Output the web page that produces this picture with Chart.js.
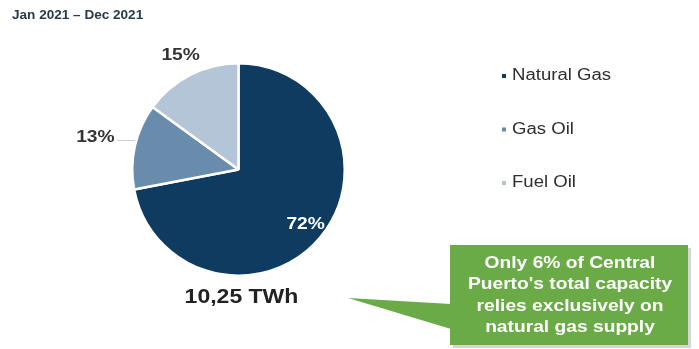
<!DOCTYPE html>
<html>
<head>
<meta charset="utf-8">
<script src="https://cdn.jsdelivr.net/npm/chart.js@4/dist/chart.umd.min.js"></script>
<style>
  html, body { margin: 0; padding: 0; background: #fff; }
  #wrap { position: relative; width: 699px; height: 349px; }
</style>
</head>
<body>
<div id="wrap"><canvas id="chart-fuel" width="699" height="349"></canvas></div>
<script>
const period = 'Jan 2021 – Dec 2021';
const fuels = ['Natural Gas', 'Gas Oil', 'Fuel Oil'];
const shares = [72, 13, 15];
const fuelColors = ['#0f3b60', '#6a8cac', '#b3c5d6'];
const totalLabel = '10,25 TWh';
const calloutLines = ['Only 6% of Central', 'Puerto\'s total capacity', 'relies exclusively on', 'natural gas supply'];

const FONT = "'Liberation Sans', Arial, sans-serif";

// label placement: distance from centre as a fraction of the radius
const labelDist = [0.82, 1.38, 1.2];

// text drawn a little wider than the font's natural width
function wideText(ctx, text, x, y, sx, align) {
  ctx.save();
  ctx.translate(x, y);
  ctx.scale(sx, 1);
  ctx.textAlign = align;
  ctx.fillText(text, 0, 0);
  ctx.restore();
}

const overlay = {
  id: 'overlay',
  afterDraw(chart) {
    const ctx = chart.ctx;
    const arcs = chart.getDatasetMeta(0).data;
    ctx.save();
    ctx.textBaseline = 'middle';

    // period header
    ctx.fillStyle = '#2b3a4a';
    ctx.font = 'bold 12px ' + FONT;
    wideText(ctx, period, 12, 16, 1.13, 'left');

    // slice percentages
    arcs.forEach((a, i) => {
      const mid = (a.startAngle + a.endAngle) / 2;
      const r = a.outerRadius * labelDist[i];
      const x = a.x + Math.cos(mid) * r;
      const y = a.y + Math.sin(mid) * r;
      if (i === 1) {
        // short leader to the slice edge
        ctx.strokeStyle = '#cfcfcf';
        ctx.lineWidth = 1;
        ctx.beginPath();
        ctx.moveTo(x + 22, y + 3);
        ctx.lineTo(a.x + Math.cos(mid) * a.outerRadius, y + 3);
        ctx.stroke();
      }
      ctx.font = 'bold 16px ' + FONT;
      ctx.fillStyle = i === 0 ? '#ffffff' : '#333333';
      wideText(ctx, shares[i] + '%', x, y, 1.2, 'center');
    });

    // total below the pie
    const c = arcs[0];
    ctx.font = 'bold 20px ' + FONT;
    ctx.fillStyle = '#222';
    wideText(ctx, totalLabel, c.x + 3, c.y + c.outerRadius + 22, 1.15, 'center');

    // legend
    ctx.font = '16px ' + FONT;
    fuels.forEach((f, i) => {
      const y = 76 + i * 53.5;
      ctx.fillStyle = fuelColors[i];
      ctx.fillRect(502, y - 2, 4, 4);
      ctx.fillStyle = '#2e2e2e';
      wideText(ctx, f, 512, y, 1.16, 'left');
    });

    // green callout with pointer
    const bx = 450, by = 245, bw = 238, bh = 100;
    ctx.fillStyle = 'rgba(0,0,0,0.16)';
    ctx.fillRect(bx + 3, by + 3, bw, bh);
    ctx.fillStyle = '#6aab47';
    ctx.beginPath();
    ctx.moveTo(bx + 1, by + 59);
    ctx.lineTo(348, 298);
    ctx.lineTo(bx + 1, by + 84);
    ctx.closePath();
    ctx.fill();
    ctx.fillRect(bx, by, bw, bh);

    ctx.fillStyle = '#ffffff';
    ctx.font = 'bold 17px ' + FONT;
    calloutLines.forEach((t, i) => wideText(ctx, t, bx + bw / 2 + 1, by + 18 + i * 21.5, 1.13, 'center'));
    ctx.restore();
  }
};

new Chart(document.getElementById('chart-fuel'), {
  type: 'pie',
  data: {
    labels: fuels,
    datasets: [{
      data: shares,
      backgroundColor: fuelColors,
      borderColor: '#ffffff',
      borderWidth: 2.5
    }]
  },
  options: {
    responsive: false,
    animation: false,
    layout: { padding: { left: 131, right: 353, top: 62, bottom: 72 } },
    plugins: {
      legend: { display: false },
      tooltip: { enabled: false }
    }
  },
  plugins: [overlay]
});
</script>
</body>
</html>
